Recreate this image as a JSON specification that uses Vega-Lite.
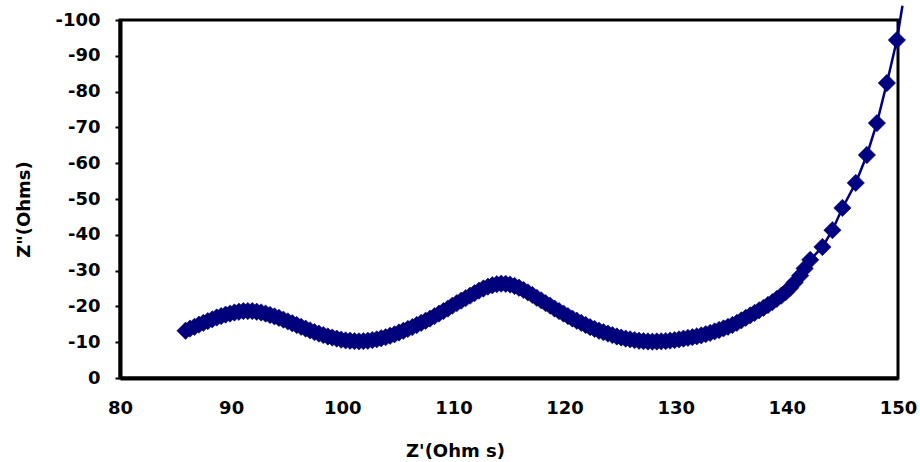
{
  "$schema": "https://vega.github.io/schema/vega-lite/v6.json",
  "autosize": "none",
  "width": 778,
  "height": 358,
  "padding": {"left": 120, "top": 20, "right": 22, "bottom": 84},
  "background": "white",
  "config": {
    "view": {"stroke": "black", "strokeWidth": 3},
    "font": "DejaVu Sans"
  },
  "data": {
    "values": [
      {"zr": 85.9, "zi": -13.2, "m": 1},
      {"zr": 86.3, "zi": -13.8, "m": 1},
      {"zr": 86.7, "zi": -14.3, "m": 1},
      {"zr": 87.1, "zi": -14.9, "m": 1},
      {"zr": 87.5, "zi": -15.4, "m": 1},
      {"zr": 87.9, "zi": -15.9, "m": 1},
      {"zr": 88.3, "zi": -16.4, "m": 1},
      {"zr": 88.7, "zi": -16.9, "m": 1},
      {"zr": 89.1, "zi": -17.3, "m": 1},
      {"zr": 89.5, "zi": -17.7, "m": 1},
      {"zr": 89.9, "zi": -18.0, "m": 1},
      {"zr": 90.3, "zi": -18.3, "m": 1},
      {"zr": 90.7, "zi": -18.5, "m": 1},
      {"zr": 91.1, "zi": -18.7, "m": 1},
      {"zr": 91.5, "zi": -18.7, "m": 1},
      {"zr": 91.9, "zi": -18.7, "m": 1},
      {"zr": 92.3, "zi": -18.5, "m": 1},
      {"zr": 92.7, "zi": -18.3, "m": 1},
      {"zr": 93.1, "zi": -18.0, "m": 1},
      {"zr": 93.5, "zi": -17.6, "m": 1},
      {"zr": 93.9, "zi": -17.2, "m": 1},
      {"zr": 94.3, "zi": -16.8, "m": 1},
      {"zr": 94.7, "zi": -16.3, "m": 1},
      {"zr": 95.1, "zi": -15.8, "m": 1},
      {"zr": 95.5, "zi": -15.3, "m": 1},
      {"zr": 95.9, "zi": -14.8, "m": 1},
      {"zr": 96.3, "zi": -14.3, "m": 1},
      {"zr": 96.7, "zi": -13.8, "m": 1},
      {"zr": 97.1, "zi": -13.3, "m": 1},
      {"zr": 97.5, "zi": -12.8, "m": 1},
      {"zr": 97.9, "zi": -12.4, "m": 1},
      {"zr": 98.3, "zi": -12.0, "m": 1},
      {"zr": 98.7, "zi": -11.6, "m": 1},
      {"zr": 99.1, "zi": -11.3, "m": 1},
      {"zr": 99.5, "zi": -11.0, "m": 1},
      {"zr": 99.9, "zi": -10.7, "m": 1},
      {"zr": 100.3, "zi": -10.5, "m": 1},
      {"zr": 100.7, "zi": -10.4, "m": 1},
      {"zr": 101.1, "zi": -10.3, "m": 1},
      {"zr": 101.5, "zi": -10.25, "m": 1},
      {"zr": 101.9, "zi": -10.3, "m": 1},
      {"zr": 102.3, "zi": -10.4, "m": 1},
      {"zr": 102.7, "zi": -10.6, "m": 1},
      {"zr": 103.1, "zi": -10.8, "m": 1},
      {"zr": 103.5, "zi": -11.1, "m": 1},
      {"zr": 103.9, "zi": -11.4, "m": 1},
      {"zr": 104.3, "zi": -11.8, "m": 1},
      {"zr": 104.7, "zi": -12.2, "m": 1},
      {"zr": 105.1, "zi": -12.7, "m": 1},
      {"zr": 105.5, "zi": -13.2, "m": 1},
      {"zr": 105.9, "zi": -13.7, "m": 1},
      {"zr": 106.3, "zi": -14.2, "m": 1},
      {"zr": 106.7, "zi": -14.8, "m": 1},
      {"zr": 107.1, "zi": -15.4, "m": 1},
      {"zr": 107.5, "zi": -16.0, "m": 1},
      {"zr": 107.9, "zi": -16.6, "m": 1},
      {"zr": 108.3, "zi": -17.3, "m": 1},
      {"zr": 108.7, "zi": -18.0, "m": 1},
      {"zr": 109.1, "zi": -18.7, "m": 1},
      {"zr": 109.5, "zi": -19.4, "m": 1},
      {"zr": 109.9, "zi": -20.2, "m": 1},
      {"zr": 110.3, "zi": -20.9, "m": 1},
      {"zr": 110.7, "zi": -21.6, "m": 1},
      {"zr": 111.1, "zi": -22.3, "m": 1},
      {"zr": 111.5, "zi": -23.0, "m": 1},
      {"zr": 111.9, "zi": -23.7, "m": 1},
      {"zr": 112.3, "zi": -24.4, "m": 1},
      {"zr": 112.7, "zi": -25.0, "m": 1},
      {"zr": 113.1, "zi": -25.5, "m": 1},
      {"zr": 113.5, "zi": -25.9, "m": 1},
      {"zr": 113.9, "zi": -26.2, "m": 1},
      {"zr": 114.3, "zi": -26.35, "m": 1},
      {"zr": 114.7, "zi": -26.3, "m": 1},
      {"zr": 115.1, "zi": -26.1, "m": 1},
      {"zr": 115.5, "zi": -25.7, "m": 1},
      {"zr": 115.9, "zi": -25.2, "m": 1},
      {"zr": 116.3, "zi": -24.6, "m": 1},
      {"zr": 116.7, "zi": -23.9, "m": 1},
      {"zr": 117.1, "zi": -23.2, "m": 1},
      {"zr": 117.5, "zi": -22.4, "m": 1},
      {"zr": 117.9, "zi": -21.7, "m": 1},
      {"zr": 118.3, "zi": -20.9, "m": 1},
      {"zr": 118.7, "zi": -20.2, "m": 1},
      {"zr": 119.1, "zi": -19.4, "m": 1},
      {"zr": 119.5, "zi": -18.7, "m": 1},
      {"zr": 119.9, "zi": -18.0, "m": 1},
      {"zr": 120.3, "zi": -17.3, "m": 1},
      {"zr": 120.7, "zi": -16.6, "m": 1},
      {"zr": 121.1, "zi": -16.0, "m": 1},
      {"zr": 121.5, "zi": -15.4, "m": 1},
      {"zr": 121.9, "zi": -14.8, "m": 1},
      {"zr": 122.3, "zi": -14.2, "m": 1},
      {"zr": 122.7, "zi": -13.7, "m": 1},
      {"zr": 123.1, "zi": -13.2, "m": 1},
      {"zr": 123.5, "zi": -12.8, "m": 1},
      {"zr": 123.9, "zi": -12.4, "m": 1},
      {"zr": 124.3, "zi": -12.0, "m": 1},
      {"zr": 124.7, "zi": -11.6, "m": 1},
      {"zr": 125.1, "zi": -11.3, "m": 1},
      {"zr": 125.5, "zi": -11.0, "m": 1},
      {"zr": 125.9, "zi": -10.8, "m": 1},
      {"zr": 126.3, "zi": -10.6, "m": 1},
      {"zr": 126.7, "zi": -10.4, "m": 1},
      {"zr": 127.1, "zi": -10.3, "m": 1},
      {"zr": 127.5, "zi": -10.2, "m": 1},
      {"zr": 127.9, "zi": -10.15, "m": 1},
      {"zr": 128.3, "zi": -10.2, "m": 1},
      {"zr": 128.7, "zi": -10.25, "m": 1},
      {"zr": 129.1, "zi": -10.3, "m": 1},
      {"zr": 129.5, "zi": -10.45, "m": 1},
      {"zr": 129.9, "zi": -10.6, "m": 1},
      {"zr": 130.3, "zi": -10.8, "m": 1},
      {"zr": 130.7, "zi": -11.0, "m": 1},
      {"zr": 131.1, "zi": -11.2, "m": 1},
      {"zr": 131.5, "zi": -11.4, "m": 1},
      {"zr": 131.9, "zi": -11.65, "m": 1},
      {"zr": 132.3, "zi": -11.9, "m": 1},
      {"zr": 132.7, "zi": -12.25, "m": 1},
      {"zr": 133.1, "zi": -12.6, "m": 1},
      {"zr": 133.5, "zi": -13.0, "m": 1},
      {"zr": 133.9, "zi": -13.4, "m": 1},
      {"zr": 134.3, "zi": -13.85, "m": 1},
      {"zr": 134.7, "zi": -14.3, "m": 1},
      {"zr": 135.1, "zi": -14.8, "m": 1},
      {"zr": 135.5, "zi": -15.4, "m": 1},
      {"zr": 135.9, "zi": -16.1, "m": 1},
      {"zr": 136.3, "zi": -16.8, "m": 1},
      {"zr": 136.7, "zi": -17.5, "m": 1},
      {"zr": 137.1, "zi": -18.2, "m": 1},
      {"zr": 137.5, "zi": -18.9, "m": 1},
      {"zr": 137.9, "zi": -19.6, "m": 1},
      {"zr": 138.3, "zi": -20.4, "m": 1},
      {"zr": 138.7, "zi": -21.2, "m": 1},
      {"zr": 139.1, "zi": -22.1, "m": 1},
      {"zr": 139.5, "zi": -23.0, "m": 1},
      {"zr": 139.9, "zi": -24.0, "m": 1},
      {"zr": 140.3, "zi": -25.2, "m": 1},
      {"zr": 140.7, "zi": -26.7, "m": 1},
      {"zr": 141.2, "zi": -28.6, "m": 1},
      {"zr": 141.6, "zi": -30.6, "m": 1},
      {"zr": 142.1, "zi": -33.0, "m": 1},
      {"zr": 143.2, "zi": -36.6, "m": 1},
      {"zr": 144.1, "zi": -41.3, "m": 1},
      {"zr": 145.0, "zi": -47.5, "m": 1},
      {"zr": 146.2, "zi": -54.5, "m": 1},
      {"zr": 147.2, "zi": -62.3, "m": 1},
      {"zr": 148.1, "zi": -71.2, "m": 1},
      {"zr": 149.0, "zi": -82.4, "m": 1},
      {"zr": 149.9, "zi": -94.4, "m": 1},
      {"zr": 150.4, "zi": -104.0, "m": 0}
    ]
  },
  "encoding": {
    "x": {
      "field": "zr",
      "type": "quantitative",
      "scale": {"domain": [80, 150], "nice": false, "zero": false},
      "axis": {
        "title": "Z'(Ohm s)",
        "values": [80, 90, 100, 110, 120, 130, 140, 150],
        "grid": false,
        "ticks": false,
        "tickSize": 0,
        "domain": true,
        "domainColor": "black",
        "domainWidth": 4,
        "labelFont": "DejaVu Sans",
        "labelFontSize": 18,
        "labelFontWeight": "bold",
        "labelColor": "black",
        "labelPadding": 21,
        "labelFlush": false,
        "titleFont": "DejaVu Sans",
        "titleFontSize": 18,
        "titleFontWeight": "bold",
        "titleColor": "black",
        "titleX": 335,
        "titleY": 64,
        "titleAlign": "center",
        "titleBaseline": "top"
      }
    },
    "y": {
      "field": "zi",
      "type": "quantitative",
      "scale": {"domain": [0, -100], "nice": false, "zero": false},
      "axis": {
        "title": "Z\"(Ohms)",
        "values": [0, -10, -20, -30, -40, -50, -60, -70, -80, -90, -100],
        "labelExpr": "datum.value == 0 ? '0' : '-' + abs(datum.value)",
        "grid": false,
        "ticks": true,
        "tickSize": 5,
        "tickWidth": 2,
        "tickColor": "black",
        "domain": true,
        "domainColor": "black",
        "domainWidth": 4,
        "labelFont": "DejaVu Sans",
        "labelFontSize": 18,
        "labelFontWeight": "bold",
        "labelColor": "black",
        "labelPadding": 15,
        "labelFlush": false,
        "titleFont": "DejaVu Sans",
        "titleFontSize": 18,
        "titleFontWeight": "bold",
        "titleColor": "black",
        "titleAngle": 270,
        "titleX": -87,
        "titleY": 189,
        "titleAlign": "center",
        "titleBaseline": "bottom"
      }
    }
  },
  "layer": [
    {
      "mark": {"type": "line", "color": "#000080", "strokeWidth": 2.5, "clip": false}
    },
    {
      "transform": [{"filter": "datum.m == 1"}],
      "mark": {"type": "point", "shape": "diamond", "filled": true, "size": 300, "color": "#000080", "opacity": 1, "stroke": "#00005a", "strokeWidth": 0.6}
    }
  ]
}
